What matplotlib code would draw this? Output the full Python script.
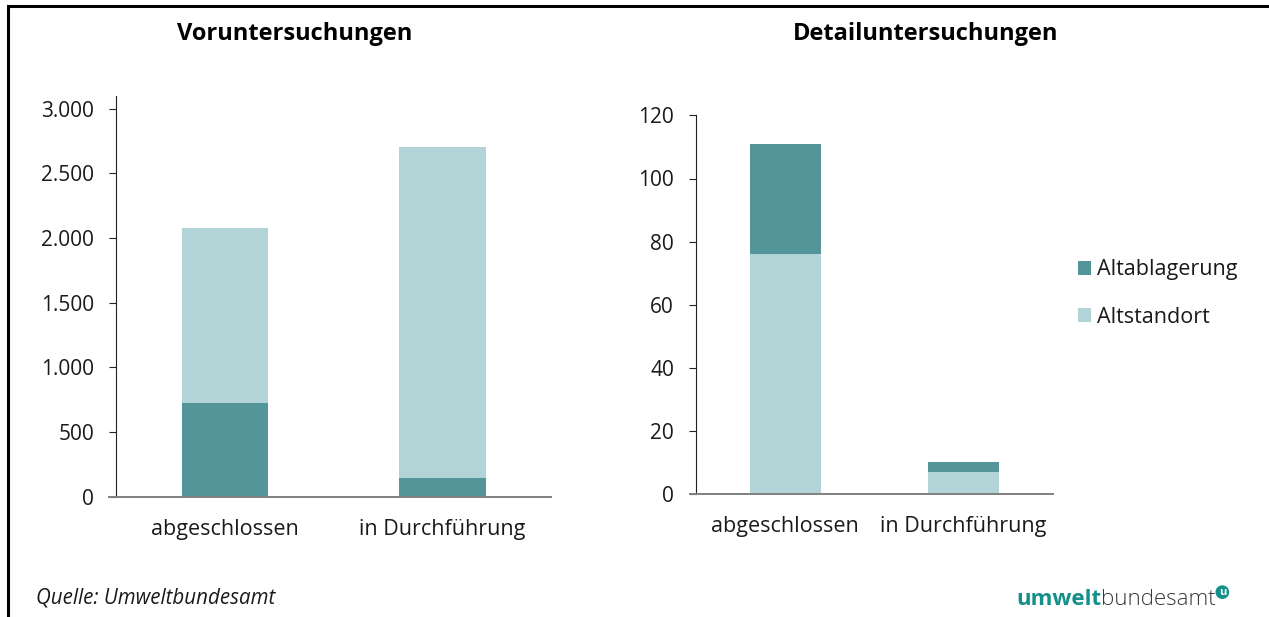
import numpy as np
import matplotlib
matplotlib.use("Agg")
import matplotlib.pyplot as plt

plt.rcParams.update({"font.family": ["Open Sans", "DejaVu Sans"], "font.size": 15})

DARK, LIGHT, TEAL, TXT = "#549599", "#b2d4d6", "#13908a", "#1a1a1a"

categories = ["abgeschlossen", "in Durchführung"]
series = ["Altablagerung", "Altstandort"]
# Voruntersuchungen: Altablagerung sits at the bottom
vor_altablagerung = [724, 143]
vor_altstandort = [1355, 2562]
# Detailuntersuchungen: Altstandort sits at the bottom
det_altstandort = [76, 7]
det_altablagerung = [35, 3]

W, H = 1269, 617
fig = plt.figure(figsize=(W / 100, H / 100), dpi=100)

def px_axes(x0, x1, y_top, y_bot):
    return fig.add_axes([x0 / W, 1 - y_bot / H, (x1 - x0) / W, (y_bot - y_top) / H])

def style(ax, ymax, yticks, fmt):
    ax.set_xlim(-0.532, 1.5)
    ax.set_ylim(0, ymax)
    for s in ("top", "right"):
        ax.spines[s].set_visible(False)
    ax.spines["left"].set_position(("data", -0.5))
    ax.spines["left"].set_color("#222222")
    ax.spines["left"].set_linewidth(0.8)
    ax.spines["bottom"].set_color("#808080")
    ax.spines["bottom"].set_linewidth(1.4)
    ax.set_yticks(yticks)
    ax.set_yticklabels([fmt(v) for v in yticks], color=TXT, fontsize=15)
    ax.tick_params(axis="y", length=5, width=0.8, color="#222222", pad=11)
    ax.set_xticks(range(len(categories)))
    ax.set_xticklabels(categories, color=TXT, fontsize=15.5)
    ax.tick_params(axis="x", length=0, pad=16)

x = np.arange(len(categories))
wd = 0.4

# left panel
ax1 = px_axes(109.4, 551, 95.7, 496.8)
ax1.bar(x, vor_altablagerung, wd, color=DARK, zorder=2)
ax1.bar(x, vor_altstandort, wd, bottom=vor_altablagerung, color=LIGHT, zorder=2)
style(ax1, 3100, [0, 500, 1000, 1500, 2000, 2500, 3000],
      lambda v: f"{v:,}".replace(",", "."))

# right panel
ax2 = px_axes(690.4, 1052.5, 115.4, 494)
ax2.bar(x, det_altstandort, wd, color=LIGHT, zorder=2, label=series[1])
ax2.bar(x, det_altablagerung, wd, bottom=det_altstandort, color=DARK, zorder=2, label=series[0])
style(ax2, 120, [0, 20, 40, 60, 80, 100, 120], lambda v: f"{v}")
h, l = ax2.get_legend_handles_labels()
fig.legend(h[::-1], l[::-1], loc="upper left", bbox_to_anchor=(1059 / W, 1 - 240 / H),
           frameon=False, handlelength=0.6, handleheight=0.6, handletextpad=0.25,
           labelspacing=1.22, fontsize=15.5, labelcolor=TXT)

# overlay for titles, border, source and logo
bg = fig.add_axes([0, 0, 1, 1], zorder=-1)
bg.set_xlim(0, W); bg.set_ylim(H, 0); bg.axis("off")
bg.plot([8, 8, W], [H, 6, 6], color="black", lw=2.2, solid_joinstyle="miter")
bg.text(295, 34, "Voruntersuchungen", ha="center", va="center", fontsize=17,
        fontweight="bold", color="black")
bg.text(926, 34, "Detailuntersuchungen", ha="center", va="center", fontsize=17,
        fontweight="bold", color="black")
bg.text(36, 598, "Quelle: Umweltbundesamt", ha="left", va="center", fontsize=14.8,
        style="italic", color=TXT)
t1 = bg.text(1016, 605, "umwelt", ha="left", va="baseline", fontsize=16,
             fontweight="bold", color=TEAL)
t2 = bg.annotate("bundesamt", xy=(1, 0), xycoords=t1, ha="left", va="bottom",
                 fontsize=16, fontweight="light", color="#3a3a3a")
bg.annotate("u", xy=(1, 0.85), xycoords=t2, xytext=(2, 0), textcoords="offset points",
            ha="left", va="center", fontsize=8, fontweight="bold", color="white",
            bbox=dict(boxstyle="circle,pad=0.12", fc=TEAL, ec="none"))

fig.savefig("out.png", dpi=100)
